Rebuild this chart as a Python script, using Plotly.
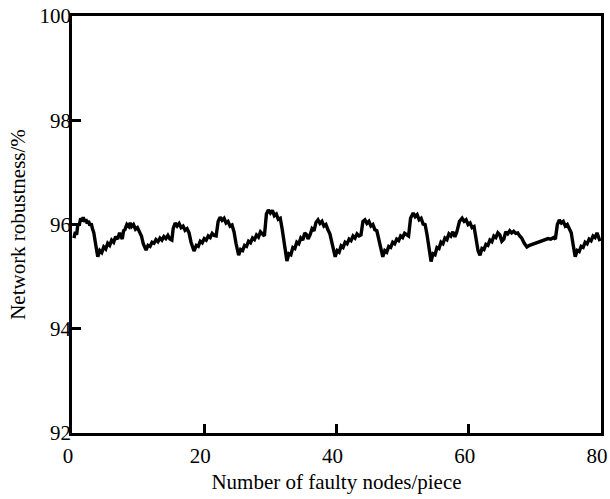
import plotly.graph_objects as go

# Number of faulty nodes (x) and network robustness in % (y)
faulty_nodes = [
    0.3, 0.5, 0.7, 0.9, 1.1, 1.3, 1.5, 1.7, 1.9, 2.1, 2.3, 2.5, 2.7, 2.9, 3.1, 3.3, 3.6, 3.9,
    4.2, 4.5, 4.8, 5.1, 5.4, 5.7, 6.0, 6.3, 6.6, 6.9, 7.2, 7.4, 7.6, 7.8, 8.0, 8.3, 8.6, 8.8,
    9.0, 9.3, 9.6, 9.9, 10.2, 10.5, 10.8, 11.2,
    11.5, 11.8, 12.1, 12.4, 12.7, 13.0, 13.3, 13.6, 13.9, 14.2, 14.5, 14.8, 15.1, 15.3, 15.6,
    15.9, 16.2, 16.5, 16.8, 17.1, 17.4, 17.7, 18.0, 18.45,
    18.8, 19.1, 19.4, 19.7, 20.0, 20.3, 20.6, 20.9, 21.2, 21.5, 21.8, 22.1, 22.4, 22.7, 23.0,
    23.3, 23.6, 23.9, 24.2, 24.5, 24.8, 25.2,
    25.5, 25.8, 26.1, 26.4, 26.7, 27.0, 27.3, 27.6, 27.9, 28.2, 28.5, 28.8, 29.1, 29.4, 29.7,
    30.0, 30.3, 30.6, 30.9, 31.2, 31.5, 31.8, 32.1, 32.5,
    32.8, 33.1, 33.4, 33.7, 34.0, 34.3, 34.6, 34.9, 35.2, 35.5, 35.7, 36.0, 36.3, 36.6, 36.9,
    37.2, 37.5, 37.8, 38.1, 38.4, 38.7, 39.0, 39.4, 39.8,
    40.1, 40.4, 40.7, 41.0, 41.3, 41.6, 41.9, 42.2, 42.5, 42.8, 43.1, 43.4, 43.7, 44.0, 44.3,
    44.6, 44.9, 45.2, 45.5, 45.8, 46.1, 46.5, 47.0,
    47.3, 47.6, 47.9, 48.2, 48.5, 48.8, 49.1, 49.4, 49.7, 50.0, 50.3, 50.6, 50.9, 51.2, 51.6,
    51.9, 52.2, 52.5, 52.8, 53.1, 53.4, 53.7, 54.0, 54.3,
    54.6, 54.9, 55.2, 55.5, 55.8, 56.1, 56.4, 56.7, 57.0, 57.3, 57.6, 57.9, 58.2, 58.6, 59.0,
    59.3, 59.6, 59.9, 60.2, 60.5, 60.8, 61.1, 61.4, 61.7,
    62.0, 62.3, 62.6, 62.9, 63.2, 63.5, 63.8, 64.1, 64.4, 64.7, 65.0, 65.3, 65.6, 65.9, 66.2,
    66.5, 66.8, 67.1, 67.4, 67.7, 68.0, 68.4, 68.8,
    69.2, 69.6, 70.0, 70.4, 70.8, 71.2, 71.6, 72.0, 72.4, 72.8, 73.1, 73.4, 73.7, 74.0, 74.3,
    74.6, 74.9, 75.2, 75.5, 75.8, 76.1,
    76.4, 76.7, 77.0, 77.3, 77.6, 77.9, 78.2, 78.5, 78.8, 79.1, 79.4, 79.6, 79.85,
]

robustness = [
    95.74, 95.86, 95.80, 96.02, 95.98, 96.12, 96.06, 96.14, 96.05, 96.10, 96.02, 96.07, 95.98, 96.02, 95.92, 95.84, 95.60, 95.38,
    95.50, 95.46, 95.57, 95.53, 95.64, 95.60, 95.70, 95.66, 95.77, 95.72, 95.84, 95.76, 95.72, 95.88, 95.90, 96.00, 95.96, 96.03,
    95.96, 96.00, 95.91, 95.94, 95.86, 95.78, 95.62, 95.51,
    95.60, 95.58, 95.66, 95.64, 95.71, 95.67, 95.74, 95.70, 95.77, 95.73, 95.79, 95.72, 95.70, 95.92, 96.03,
    95.97, 96.02, 95.94, 95.97, 95.89, 95.92, 95.84, 95.66, 95.49,
    95.60, 95.58, 95.68, 95.65, 95.73, 95.70, 95.78, 95.75, 95.83, 95.79, 95.78, 96.06, 96.14, 96.08, 96.12,
    96.03, 96.06, 95.97, 95.99, 95.86, 95.64, 95.41,
    95.52, 95.50, 95.60, 95.58, 95.68, 95.65, 95.74, 95.71, 95.80, 95.76, 95.86, 95.82, 95.78, 96.20, 96.28,
    96.22, 96.27, 96.17, 96.20, 96.10, 96.12, 95.90, 95.62, 95.30,
    95.44, 95.42, 95.56, 95.54, 95.66, 95.63, 95.74, 95.70, 95.84, 95.80, 95.72, 95.80, 95.92, 95.88, 96.04,
    96.09, 96.02, 96.06, 95.97, 96.00, 95.90, 95.82, 95.60, 95.38,
    95.50, 95.47, 95.59, 95.56, 95.66, 95.63, 95.72, 95.69, 95.78, 95.74, 95.82, 95.78, 95.80, 96.06, 96.09,
    96.02, 96.06, 95.97, 96.00, 95.90, 95.88, 95.66, 95.38,
    95.50, 95.47, 95.58, 95.56, 95.66, 95.63, 95.72, 95.69, 95.78, 95.75, 95.83, 95.80, 95.78, 96.12, 96.22,
    96.15, 96.19, 96.09, 96.12, 96.01, 96.00, 95.80, 95.52, 95.29,
    95.44, 95.42, 95.56, 95.54, 95.66, 95.63, 95.74, 95.71, 95.82, 95.78, 95.86, 95.76, 95.86, 96.06, 96.12,
    96.06, 96.09, 96.00, 96.03, 95.94, 95.96, 95.72, 95.50, 95.41,
    95.54, 95.52, 95.62, 95.60, 95.70, 95.67, 95.78, 95.75, 95.84, 95.80, 95.68, 95.72, 95.86, 95.82, 95.88,
    95.84, 95.87, 95.83, 95.84, 95.78, 95.74, 95.64, 95.57,
    95.60, 95.62, 95.64, 95.66, 95.68, 95.69, 95.71, 95.73, 95.72, 95.75, 95.72, 96.00, 96.09, 96.03, 96.06,
    95.97, 96.00, 95.92, 95.84, 95.60, 95.38,
    95.50, 95.48, 95.58, 95.56, 95.66, 95.63, 95.72, 95.69, 95.78, 95.75, 95.84, 95.78, 95.68,
]

x_ticks = [0, 20, 40, 60, 80]
y_ticks = [92, 94, 96, 98, 100]

FONT = "Liberation Serif, Times New Roman, serif"

fig = go.Figure()
fig.add_trace(go.Scatter(
    x=faulty_nodes, y=robustness, mode="lines",
    line=dict(color="black", width=3.4),
    showlegend=False,
))

axis_common = dict(
    showline=True, linecolor="black", linewidth=2.5, mirror=True,
    ticks="inside", ticklen=9, tickwidth=2.5, tickcolor="black",
    showgrid=False, zeroline=False, automargin=False,
    ticklabeloverflow="allow",
    tickfont=dict(family=FONT, size=21, color="black"),
)

fig.update_xaxes(
    range=[0, 80], tickvals=x_ticks, ticklabelstandoff=2, ticklabelshift=-4,
    title=dict(text="Number of faulty nodes/piece", font=dict(family=FONT, size=21, color="black"), standoff=8),
    **axis_common,
)
fig.update_yaxes(
    range=[92, 100], tickvals=y_ticks, ticklabelstandoff=-6,
    title=dict(text="Network robustness/%", font=dict(family=FONT, size=21, color="black"), standoff=9),
    **axis_common,
)

fig.update_layout(
    width=610, height=499,
    margin=dict(l=72, r=9, t=16, b=66),
    paper_bgcolor="white", plot_bgcolor="white",
)

# remove the page's default body margin so the figure fills the window exactly
fig.write_html(
    "out.html",
    config={"displayModeBar": False},
    post_script="document.body.style.margin='0';document.body.style.overflow='hidden';",
)
